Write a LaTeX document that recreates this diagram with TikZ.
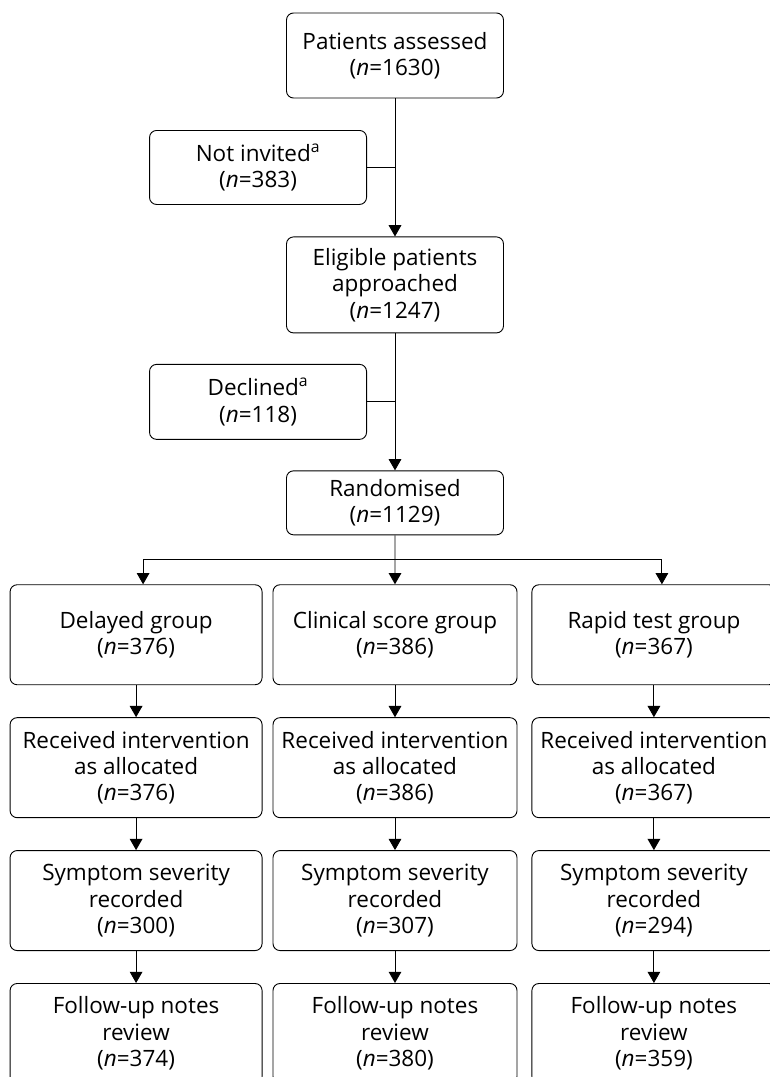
\documentclass[tikz,border=0pt]{standalone}
\usepackage{fontspec}
\setmainfont{Open Sans}
\usepackage{tikz}
\usetikzlibrary{positioning,arrows.meta,calc}
\tikzset{
  flow/.style={>={Triangle[width=9pt,length=8pt]},
    line width=0.65pt,
    node distance=0.8cm},
  stage/.style={draw,rounded corners=5pt,align=center,inner sep=2pt,
    font=\fontsize{16}{18.8}\selectfont,
    minimum width=6.1cm,minimum height=2.5cm},
  main/.style={stage,minimum width=5.425cm},
  side/.style={main}
}

\begin{document}
\begin{tikzpicture}[flow]
  \useasboundingbox (0,0) rectangle (19.25,-26.925);
  \clip (0,0) rectangle (19.25,-26.925);
  % main column
  \node[main,minimum height=2.125cm] (pa) at (9.875,-1.3875) {Patients assessed\\(\textit{n}=1630)};
  \node[main,minimum height=2.4cm,below=3.45cm of pa] (el) {Eligible patients\\approached\\(\textit{n}=1247)};
  \node[main,minimum height=1.6cm,below=3.425cm of el] (ra) {Randomised\\(\textit{n}=1129)};
  \coordinate (m1) at ($(pa.south)!0.5!(el.north)$);
  \coordinate (m2) at ($(el.south)!0.5!(ra.north)$);
  \node[side,minimum height=1.85cm,left=0.7cm of m1] (ni) {Not invited\textsuperscript{a}\\(\textit{n}=383)};
  \node[side,minimum height=1.875cm,left=0.7cm of m2] (dc) {Declined\textsuperscript{a}\\(\textit{n}=118)};
  % three arms
  \node[stage,below=1.225cm of ra] (g2) {Clinical score group\\(\textit{n}=386)};
  \node[stage,minimum width=6.3cm,left=0.25cm of g2] (g1) {Delayed group\\(\textit{n}=376)};
  \node[stage,right=0.35cm of g2] (g3) {Rapid test group\\(\textit{n}=367)};
  \coordinate (sp) at ($(ra.south)!0.5!(g2.north)$);
  \node[stage,minimum width=6.3cm,below=of g1] (r1) {Received intervention\\as allocated\\(\textit{n}=376)};
  \node[stage,below=of g2] (r2) {Received intervention\\as allocated\\(\textit{n}=386)};
  \node[stage,below=of g3] (r3) {Received intervention\\as allocated\\(\textit{n}=367)};
  \node[stage,minimum width=6.3cm,below=of r1] (s1) {Symptom severity\\recorded\\(\textit{n}=300)};
  \node[stage,below=of r2] (s2) {Symptom severity\\recorded\\(\textit{n}=307)};
  \node[stage,below=of r3] (s3) {Symptom severity\\recorded\\(\textit{n}=294)};
  \node[stage,minimum width=6.3cm,below=of s1] (f1) {Follow-up notes\\review\\(\textit{n}=374)};
  \node[stage,below=of s2] (f2) {Follow-up notes\\review\\(\textit{n}=380)};
  \node[stage,below=of s3] (f3) {Follow-up notes\\review\\(\textit{n}=359)};
  % connectors
  \draw[->] (pa) -- (el);
  \draw (ni) -- (m1);
  \draw[->] (el) -- (ra);
  \draw (dc) -- (m2);
  \draw (ra) -- (sp);
  \draw[->] (sp) -| ([xshift=0.175cm]g1.north);
  \draw[->] (sp) -- (g2);
  \draw[->] (sp) -| ([xshift=0.2cm]g3.north);
  \path[->] (g1) edge (r1) (r1) edge (s1) (s1) edge (f1)
            (g2) edge (r2) (r2) edge (s2) (s2) edge (f2)
            (g3) edge (r3) (r3) edge (s3) (s3) edge (f3);
\end{tikzpicture}
\end{document}
